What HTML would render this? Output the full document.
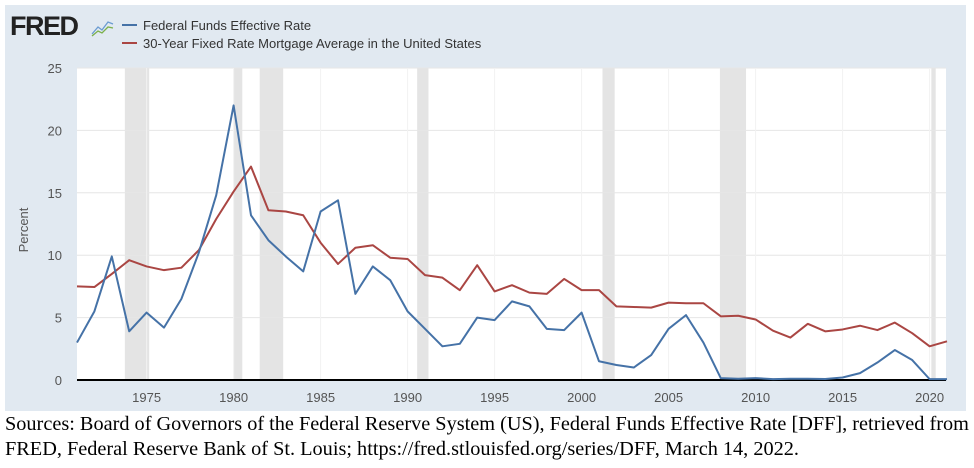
<!DOCTYPE html>
<html><head><meta charset="utf-8"><style>
body{margin:0;background:#fff;width:974px;height:468px;overflow:hidden}
svg text{font-family:"Liberation Sans",sans-serif}
.cap{position:absolute;left:5px;top:412px;font-family:"Liberation Serif",serif;font-size:20.3px;line-height:25px;color:#000;white-space:nowrap}
</style></head><body>
<svg id="c" width="974" height="468" style="position:absolute;left:0;top:0">
<rect x="5" y="5" width="961" height="406" fill="#e1e9f1"/>
<rect x="77" y="68" width="869" height="312" fill="#fff"/>
<g id="rec"></g><g id="grid"></g>
<text x="10" y="35" font-size="27" font-weight="bold" fill="#222" letter-spacing="-1.5">FRED</text>
<polyline points="92,34 98,27 102,30 108,22 113,24" fill="none" stroke="#6a9bd1" stroke-width="1.3"/>
<polyline points="92,36 98,31 102,33 108,27 113,28" fill="none" stroke="#7bb04b" stroke-width="1.3"/>
<line x1="122" y1="25" x2="137" y2="25" stroke="#4572a7" stroke-width="2"/>
<text x="143" y="30" font-size="13" fill="#333">Federal Funds Effective Rate</text>
<line x1="122" y1="43" x2="137" y2="43" stroke="#aa4643" stroke-width="2"/>
<text x="143" y="48" font-size="13" fill="#333">30-Year Fixed Rate Mortgage Average in the United States</text>
<text transform="translate(28,230) rotate(-90)" font-size="13" fill="#555" text-anchor="middle">Percent</text>
<g id="axes"></g><g id="lines"></g>
</svg>
<div class="cap">Sources: Board of Governors of the Federal Reserve System (US), Federal Funds Effective Rate [DFF], retrieved from<br>FRED, Federal Reserve Bank of St. Louis; https://fred.stlouisfed.org/series/DFF, March 14, 2022.</div>
<script>
const years=[];for(let y=1971;y<=2021;y++)years.push(y);
const fedFunds=[3.0,5.5,9.9,3.9,5.4,4.2,6.5,10.2,14.8,22.0,13.2,11.2,9.9,8.7,13.5,14.4,6.9,9.1,8.0,5.5,4.1,2.7,2.9,5.0,4.8,6.3,5.9,4.1,4.0,5.4,1.5,1.2,1.0,2.0,4.1,5.2,3.0,0.15,0.1,0.15,0.07,0.1,0.1,0.08,0.2,0.55,1.4,2.4,1.6,0.07,0.07];
const mortgage=[7.5,7.45,8.5,9.6,9.1,8.8,9.0,10.4,12.9,15.1,17.1,13.6,13.5,13.2,11.0,9.3,10.6,10.8,9.8,9.7,8.4,8.2,7.2,9.2,7.1,7.6,7.0,6.9,8.1,7.2,7.2,5.9,5.85,5.8,6.2,6.15,6.15,5.1,5.15,4.85,3.95,3.4,4.5,3.9,4.05,4.35,4.0,4.6,3.75,2.7,3.1];
const recStart=[1973.75,1980.0,1981.5,1990.55,2001.2,2007.95,2020.1];
const recEnd=[1975.15,1980.5,1982.85,1991.2,2001.9,2009.45,2020.35];
const yTicks=[0,5,10,15,20,25];
const xTicks=[1975,1980,1985,1990,1995,2000,2005,2010,2015,2020];
const NS="http://www.w3.org/2000/svg";
const X=v=>77+(v-1971)*17.4, Y=v=>380-v*12.48;
function mk(p,t,a){const e=document.createElementNS(NS,t);for(const k in a)e.setAttribute(k,a[k]);document.getElementById(p).appendChild(e);return e;}
recStart.forEach((s,i)=>{const e=mk('rec','rect',{x:X(s),y:68,width:X(recEnd[i])-X(s),height:312,fill:'#e4e4e4'});

});
yTicks.forEach(t=>{if(t>0){const g=mk('grid','line',{x1:77,x2:946,y1:Y(t),y2:Y(t),stroke:'#e6e6e6'});

}
const l=mk('axes','text',{x:62,y:Y(t)+5,'font-size':13,fill:'#555','text-anchor':'end'});l.textContent=t;

});
xTicks.forEach(t=>{const g=mk('grid','line',{x1:X(t),x2:X(t),y1:68,y2:380,stroke:'#f2f2f2'});


const l=mk('axes','text',{x:X(t),y:402,'font-size':13,fill:'#555','text-anchor':'middle'});l.textContent=t;

});
const ax=mk('axes','line',{x1:77,x2:946,y1:380,y2:380,stroke:'#000','stroke-width':2});


function series(d,c,n){const p=mk('lines','polyline',{points:d.map((v,i)=>X(years[i])+','+Y(v)).join(' '),fill:'none',stroke:c,'stroke-width':2,'stroke-linejoin':'round'});

}
series(mortgage,'#aa4643','mortgage-line');
series(fedFunds,'#4572a7','fed-funds-line');
</script>
</body></html>
